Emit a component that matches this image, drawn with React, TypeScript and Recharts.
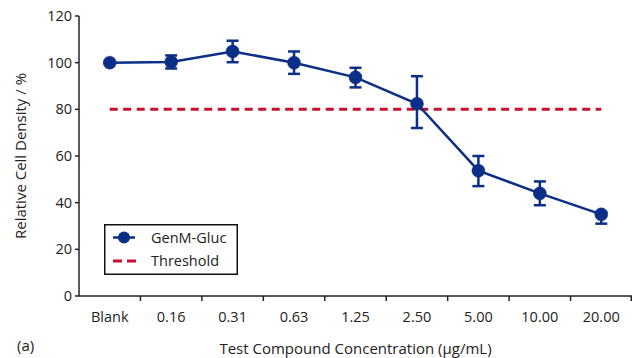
import React from 'react';
import { LineChart, Line, XAxis, YAxis, ErrorBar, Legend } from 'recharts';

const categories = ['Blank', '0.16', '0.31', '0.63', '1.25', '2.50', '5.00', '10.00', '20.00'];
const density = [100, 100.3, 104.8, 100, 93.7, 82.4, 53.7, 44, 35];
const errLow = [0, 2.8, 4.6, 4.8, 4.3, 10.4, 6.6, 5.1, 4];
const errHigh = [0, 2.8, 4.6, 4.8, 4.1, 11.8, 6.3, 5.1, 1];
const threshold = [80, 80, 80, 80, 80, 80, 80, 80, 80];
const yTicks = [0, 20, 40, 60, 80, 100, 120];

const data = categories.map((c, i) => ({
  cat: c,
  density: density[i],
  err: [errLow[i], errHigh[i]],
  threshold: threshold[i],
}));

const NAVY = '#0b2f86';
const RED = '#c8102e';
const FONT = '"Open Sans", sans-serif';
const W = 633;
const H = 358;
const M = { top: 16, right: 1, left: 0, bottom: 0 };
const Y_W = 79;
const X_H = 62;
const BAND = (W - M.right - Y_W) / categories.length;

const XTick = (props: any) => {
  const { x, y, payload, index } = props;
  const isLast = index === categories.length - 1;
  return (
    <g>
      {index > 0 && (
        <line x1={x - BAND / 2} x2={x - BAND / 2} y1={y} y2={y + 5} stroke="#222" strokeWidth={1.5} />
      )}
      {isLast && (
        <line x1={x + BAND / 2 - 0.75} x2={x + BAND / 2 - 0.75} y1={y} y2={y + 5} stroke="#222" strokeWidth={1.5} />
      )}
      <text x={x} y={y + 26} textAnchor="middle" fontSize={14.5} fontFamily={FONT} fill="#222">
        {payload.value}
      </text>
    </g>
  );
};

const LegendBox = () => (
  <svg width={134} height={51} style={{ display: 'block' }}>
    <rect x={0.75} y={0.75} width={132.5} height={49.5} fill="#fff" stroke="#111" strokeWidth={1.5} />
    <line x1={9} x2={31} y1={13.5} y2={13.5} stroke={NAVY} strokeWidth={2.5} />
    <circle cx={20} cy={13.5} r={6} fill={NAVY} />
    <text x={47} y={18.5} fontSize={14.5} fontFamily={FONT} fill="#222">GenM-Gluc</text>
    <line x1={9} x2={32} y1={37} y2={37} stroke={RED} strokeWidth={3} strokeDasharray="9 5 9 20" />
    <text x={47} y={42} fontSize={14.5} fontFamily={FONT} fill="#222">Threshold</text>
  </svg>
);

export default function App() {
  return (
    <div style={{ position: 'absolute', left: 0, top: 0, width: W, height: H, background: '#fff' }}>
      <LineChart width={W} height={H} data={data} margin={M}>
        <XAxis
          dataKey="cat"
          type="category"
          padding={{ left: BAND / 2, right: BAND / 2 }}
          height={X_H}
          tickLine={false}
          tickSize={0}
          tickMargin={0}
          tick={<XTick />}
          interval={0}
          stroke="#222"
          strokeWidth={1.5}
          label={{
            value: 'Test Compound Concentration (µg/mL)',
            position: 'insideBottom',
            offset: 4,
            fontSize: 15,
            fontFamily: FONT,
            fill: '#222',
          }}
        />
        <YAxis
          domain={[0, 120]}
          ticks={yTicks}
          width={Y_W}
          tickSize={4}
          tickMargin={3}
          stroke="#222"
          strokeWidth={1.5}
          tick={{ fontSize: 14.5, fontFamily: FONT, fill: '#222' }}
          label={{
            value: 'Relative Cell Density / %',
            angle: -90,
            position: 'insideLeft',
            offset: 21,
            style: { textAnchor: 'middle' },
            fontSize: 15,
            fontFamily: FONT,
            fill: '#222',
          }}
        />
        <Line
          dataKey="threshold"
          stroke={RED}
          strokeWidth={3}
          strokeDasharray="8 5.5"
          dot={false}
          activeDot={false}
          isAnimationActive={false}
        />
        <Line
          dataKey="density"
          stroke={NAVY}
          strokeWidth={2.5}
          dot={{ r: 6.5, fill: NAVY, stroke: NAVY, strokeWidth: 0.5 }}
          activeDot={false}
          isAnimationActive={false}
        >
          <ErrorBar dataKey="err" width={6} stroke={NAVY} strokeWidth={2.5} direction="y" />
        </Line>
        <Legend
          layout="vertical"
          align="center"
          verticalAlign="middle"
          content={() => <LegendBox />}
          wrapperStyle={{ position: 'absolute', left: 104, top: 224, width: 134, height: 51 }}
        />
      </LineChart>
      <div
        style={{
          position: 'absolute',
          left: 17,
          top: 336,
          fontSize: 15,
          fontFamily: FONT,
          color: '#222',
          lineHeight: '18px',
        }}
      >
        (a)
      </div>
    </div>
  );
}
